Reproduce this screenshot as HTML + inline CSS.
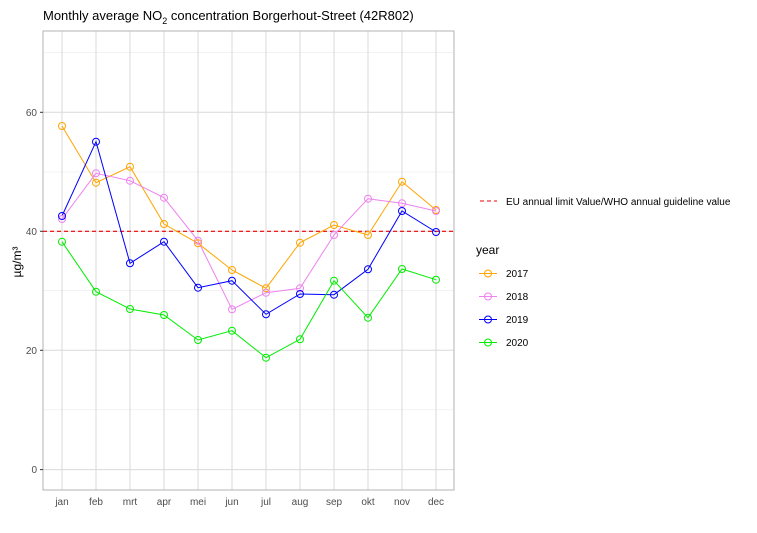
<!DOCTYPE html>
<html><head><meta charset="utf-8"><style>body{margin:0;background:#fff}svg{display:block;font-family:"Liberation Sans",Arial,sans-serif}</style></head><body>
<svg width="757" height="533" xmlns="http://www.w3.org/2000/svg">
<rect width="757" height="533" fill="#fff"/>
<text x="43" y="20" font-size="13" fill="#000">Monthly average NO<tspan font-size="9" dy="4">2</tspan><tspan dy="-4"> concentration Borgerhout-Street (42R802)</tspan></text>
<g stroke="#ebebeb" stroke-width="0.6">
<line x1="43" x2="454" y1="52.7" y2="52.7"/><line x1="43" x2="454" y1="171.9" y2="171.9"/><line x1="43" x2="454" y1="290.7" y2="290.7"/><line x1="43" x2="454" y1="409.8" y2="409.8"/>
</g>
<g stroke="#d9d9d9" stroke-width="1">
<line x1="43" x2="454" y1="112.3" y2="112.3"/><line x1="43" x2="454" y1="231.3" y2="231.3"/><line x1="43" x2="454" y1="350.3" y2="350.3"/><line x1="43" x2="454" y1="469.6" y2="469.6"/>
<line x1="62" x2="62" y1="31" y2="490"/><line x1="96" x2="96" y1="31" y2="490"/><line x1="130" x2="130" y1="31" y2="490"/><line x1="164" x2="164" y1="31" y2="490"/><line x1="198" x2="198" y1="31" y2="490"/><line x1="232" x2="232" y1="31" y2="490"/><line x1="266" x2="266" y1="31" y2="490"/><line x1="300" x2="300" y1="31" y2="490"/><line x1="334" x2="334" y1="31" y2="490"/><line x1="368" x2="368" y1="31" y2="490"/><line x1="402" x2="402" y1="31" y2="490"/><line x1="436" x2="436" y1="31" y2="490"/>
</g>
<rect x="43" y="31" width="411" height="459" fill="none" stroke="#b3b3b3" stroke-width="1"/>
<line x1="43" x2="454" y1="231.3" y2="231.3" stroke="#e00" stroke-width="1.1" stroke-dasharray="4,3"/>
<g fill="none" stroke-width="1">
<polyline stroke="#ffa500" points="62,126 96,182.7 130,166.7 164,224 198,243.3 232,270 266,288.3 300,242.7 334,225 368,235 402,181.7 436,210"/>
<polyline stroke="#ee82ee" points="62,219 96,173.3 130,180.7 164,197.7 198,240.7 232,309.3 266,292.7 300,288.3 334,235 368,198.7 402,203.3 436,211"/>
<polyline stroke="#0000ff" points="62,216 96,141.7 130,263.3 164,241.7 198,287.7 232,280.7 266,314.3 300,294 334,294.7 368,269.3 402,211 436,232"/>
<polyline stroke="#00ee00" points="62,241.7 96,291.7 130,309 164,315 198,340 232,330.7 266,357.7 300,339.3 334,280.7 368,317.7 402,269 436,279.7"/>
</g>
<g fill="none" stroke-width="1">
<g stroke="#ffa500"><circle cx="62" cy="126" r="3.5"/><circle cx="96" cy="182.7" r="3.5"/><circle cx="130" cy="166.7" r="3.5"/><circle cx="164" cy="224" r="3.5"/><circle cx="198" cy="243.3" r="3.5"/><circle cx="232" cy="270" r="3.5"/><circle cx="266" cy="288.3" r="3.5"/><circle cx="300" cy="242.7" r="3.5"/><circle cx="334" cy="225" r="3.5"/><circle cx="368" cy="235" r="3.5"/><circle cx="402" cy="181.7" r="3.5"/><circle cx="436" cy="210" r="3.5"/></g>
<g stroke="#ee82ee"><circle cx="62" cy="219" r="3.5"/><circle cx="96" cy="173.3" r="3.5"/><circle cx="130" cy="180.7" r="3.5"/><circle cx="164" cy="197.7" r="3.5"/><circle cx="198" cy="240.7" r="3.5"/><circle cx="232" cy="309.3" r="3.5"/><circle cx="266" cy="292.7" r="3.5"/><circle cx="300" cy="288.3" r="3.5"/><circle cx="334" cy="235" r="3.5"/><circle cx="368" cy="198.7" r="3.5"/><circle cx="402" cy="203.3" r="3.5"/><circle cx="436" cy="211" r="3.5"/></g>
<g stroke="#0000ff"><circle cx="62" cy="216" r="3.5"/><circle cx="96" cy="141.7" r="3.5"/><circle cx="130" cy="263.3" r="3.5"/><circle cx="164" cy="241.7" r="3.5"/><circle cx="198" cy="287.7" r="3.5"/><circle cx="232" cy="280.7" r="3.5"/><circle cx="266" cy="314.3" r="3.5"/><circle cx="300" cy="294" r="3.5"/><circle cx="334" cy="294.7" r="3.5"/><circle cx="368" cy="269.3" r="3.5"/><circle cx="402" cy="211" r="3.5"/><circle cx="436" cy="232" r="3.5"/></g>
<g stroke="#00ee00"><circle cx="62" cy="241.7" r="3.5"/><circle cx="96" cy="291.7" r="3.5"/><circle cx="130" cy="309" r="3.5"/><circle cx="164" cy="315" r="3.5"/><circle cx="198" cy="340" r="3.5"/><circle cx="232" cy="330.7" r="3.5"/><circle cx="266" cy="357.7" r="3.5"/><circle cx="300" cy="339.3" r="3.5"/><circle cx="334" cy="280.7" r="3.5"/><circle cx="368" cy="317.7" r="3.5"/><circle cx="402" cy="269" r="3.5"/><circle cx="436" cy="279.7" r="3.5"/></g>
</g>
<g font-size="10" fill="#4d4d4d" text-anchor="end">
<text x="37" y="116">60</text><text x="37" y="235">40</text><text x="37" y="354">20</text><text x="37" y="473">0</text>
</g>
<g stroke="#333" stroke-width="1"><line x1="40" x2="43" y1="112.3" y2="112.3"/><line x1="40" x2="43" y1="231.3" y2="231.3"/><line x1="40" x2="43" y1="350.3" y2="350.3"/><line x1="40" x2="43" y1="469.6" y2="469.6"/></g>
<g font-size="10" fill="#4d4d4d" text-anchor="middle">
<text x="62" y="505">jan</text><text x="96" y="505">feb</text><text x="130" y="505">mrt</text><text x="164" y="505">apr</text><text x="198" y="505">mei</text><text x="232" y="505">jun</text><text x="266" y="505">jul</text><text x="300" y="505">aug</text><text x="334" y="505">sep</text><text x="368" y="505">okt</text><text x="402" y="505">nov</text><text x="436" y="505">dec</text>
</g>
<text transform="translate(21,262) rotate(-90)" font-size="12" text-anchor="middle" fill="#000">µg/m³</text>
<line x1="480" x2="497" y1="201" y2="201" stroke="#e00" stroke-dasharray="4,3"/>
<text x="506" y="205" font-size="10" fill="#000">EU annual limit Value/WHO annual guideline value</text>
<text x="476" y="254" font-size="12" fill="#000">year</text>
<g fill="none" stroke-width="1">
<line x1="479" x2="497" y1="273.5" y2="273.5" stroke="#ffa500"/><circle cx="488" cy="273.5" r="3.5" stroke="#ffa500"/>
<line x1="479" x2="497" y1="296.5" y2="296.5" stroke="#ee82ee"/><circle cx="488" cy="296.5" r="3.5" stroke="#ee82ee"/>
<line x1="479" x2="497" y1="319.5" y2="319.5" stroke="#0000ff"/><circle cx="488" cy="319.5" r="3.5" stroke="#0000ff"/>
<line x1="479" x2="497" y1="342.5" y2="342.5" stroke="#00ee00"/><circle cx="488" cy="342.5" r="3.5" stroke="#00ee00"/>
</g>
<g font-size="10" fill="#000">
<text x="506" y="277">2017</text><text x="506" y="300">2018</text><text x="506" y="323">2019</text><text x="506" y="346">2020</text>
</g>
</svg>
</body></html>
